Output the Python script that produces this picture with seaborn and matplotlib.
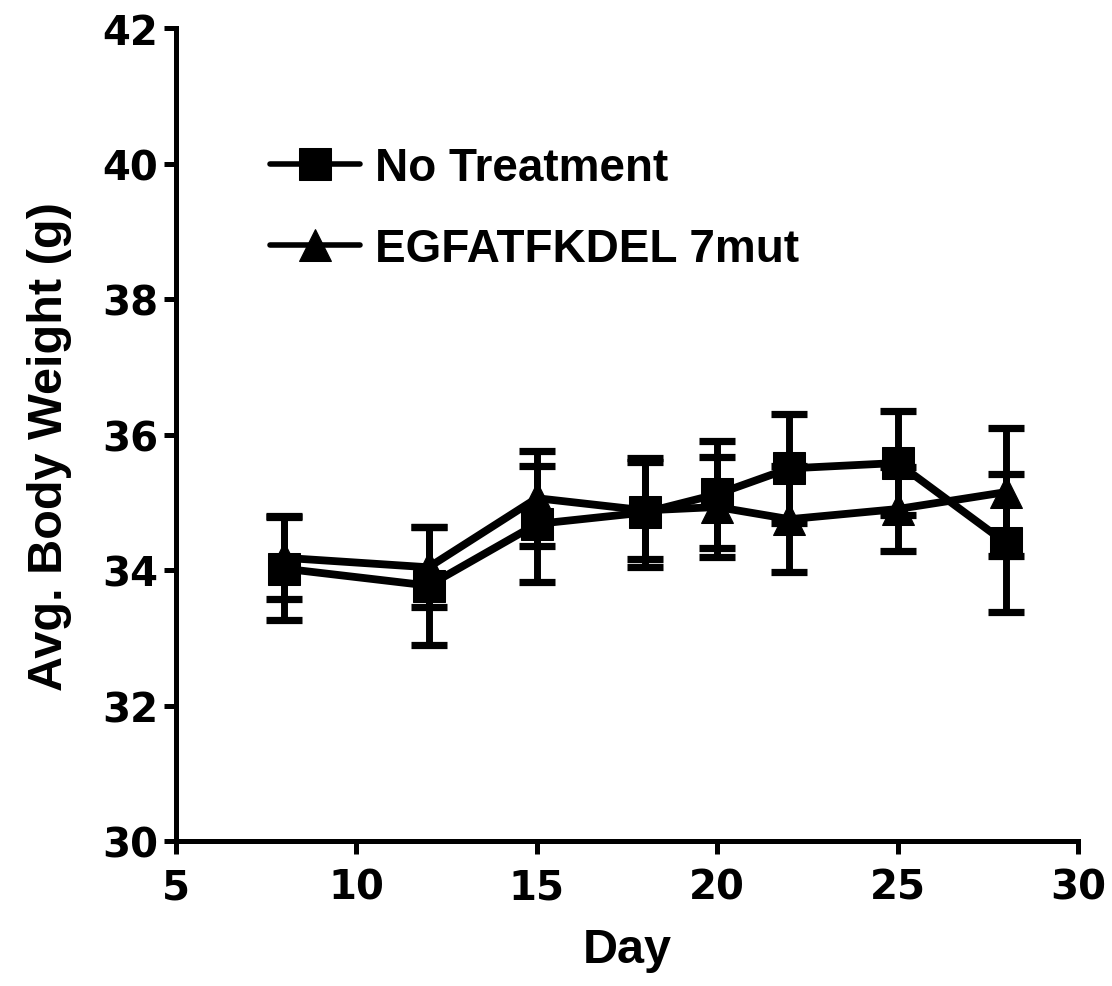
import numpy as np
import pandas as pd
import matplotlib
matplotlib.use("Agg")
import matplotlib.pyplot as plt
import seaborn as sns

# Mean body weight (g) and SEM per measurement day
days = [8, 12, 15, 18, 20, 22, 25, 28]
groups = ["No Treatment", "EGFATFKDEL 7mut"]
no_treatment_mean = [34.02, 33.77, 34.68, 34.85, 35.12, 35.50, 35.58, 34.40]
no_treatment_sem = [0.76, 0.87, 0.85, 0.80, 0.79, 0.80, 0.77, 1.02]
egf_mean = [34.18, 34.04, 35.06, 34.88, 34.93, 34.75, 34.90, 35.15]
egf_sem = [0.61, 0.59, 0.70, 0.72, 0.74, 0.78, 0.62, 0.95]

x_ticks = [5, 10, 15, 20, 25, 30]
y_ticks = [30, 32, 34, 36, 38, 40, 42]

df = pd.DataFrame({
    "Day": days * 2,
    "Weight": no_treatment_mean + egf_mean,
    "SEM": no_treatment_sem + egf_sem,
    "Group": [groups[0]] * len(days) + [groups[1]] * len(days),
})

sns.set_style("ticks")
plt.rcParams["font.family"] = ["Liberation Sans", "DejaVu Sans"]
plt.rcParams["font.weight"] = "bold"
plt.rcParams["text.color"] = "black"
plt.rcParams["axes.labelcolor"] = "black"

fig = plt.figure(figsize=(11.12, 9.87), dpi=100)
ax = fig.add_axes([0.1583, 0.1469, 0.8111, 0.8237])

LW = 5.6
markers = {groups[0]: "s", groups[1]: "^"}
sizes = {groups[0]: 22.5, groups[1]: 23}

# error bars (SEM) for each group
for g in groups:
    sub = df[df["Group"] == g]
    ax.errorbar(sub["Day"], sub["Weight"], yerr=sub["SEM"], fmt="none",
                ecolor="black", elinewidth=5.0, capsize=13, capthick=5.2,
                zorder=2)

sns.lineplot(data=df, x="Day", y="Weight", style="Group", markers=markers,
             dashes=False, color="black", linewidth=LW, markersize=22.5,
             markeredgecolor="black", errorbar=None, ax=ax, zorder=3,
             legend=True)

for line in ax.get_lines():
    if line.get_marker() == "^":
        line.set_markersize(sizes[groups[1]])

ax.set_xlim(5, 30)
ax.set_ylim(30, 42)
ax.set_xticks(x_ticks)
ax.set_yticks(y_ticks)
ax.set_xticklabels([str(v) for v in x_ticks])
ax.set_yticklabels([str(v) for v in y_ticks])

for side in ["top", "right"]:
    ax.spines[side].set_visible(False)
for side in ["left", "bottom"]:
    ax.spines[side].set_linewidth(3.6)
    ax.spines[side].set_color("black")

ax.tick_params(axis="both", width=3.6, length=9, color="black",
               labelsize=29, labelcolor="black")
ax.tick_params(axis="x", pad=10)
ax.tick_params(axis="y", pad=4)
for lab in ax.get_xticklabels() + ax.get_yticklabels():
    lab.set_family("DejaVu Sans")
    lab.set_fontweight("bold")

ax.set_xlabel("Day", fontsize=35, fontweight="bold", labelpad=14,
              color="black")
ax.set_ylabel("Avg. Body Weight (g)", fontsize=35, fontweight="bold",
              color="black")
ax.yaxis.set_label_coords(-0.115, 0.487)

handles, labels = ax.get_legend_handles_labels()
for h, lab in zip(handles, labels):
    h.set_color("black")
    h.set_linewidth(4.0)
    h.set_markersize(sizes.get(lab, 22.5))
    h.set_markeredgecolor("black")
    h.set_markerfacecolor("black")
leg = ax.legend(handles, labels, loc="upper left",
                bbox_to_anchor=(0.104, 0.855), frameon=False,
                handlelength=1.96, handletextpad=0.33, labelspacing=0.8,
                borderpad=0, borderaxespad=0,
                prop={"weight": "bold", "size": 33})
for t in leg.get_texts():
    t.set_color("black")

fig.savefig("out.png", dpi=100, facecolor="white")
